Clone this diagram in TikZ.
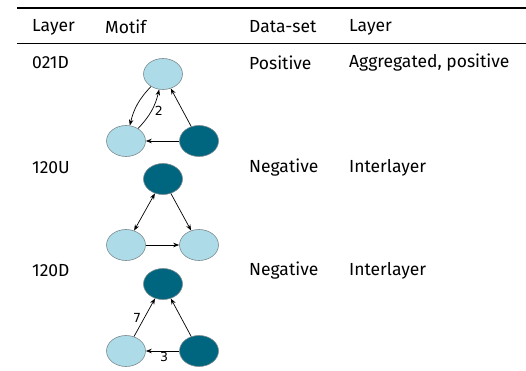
\documentclass[tikz,border=0pt]{standalone}
\usepackage{fontspec}
\setmainfont{Fira Sans}
\newfontfamily\graphfont{DejaVu Sans}
\usetikzlibrary{arrows.meta,shapes.geometric}
\definecolor{lightnode}{HTML}{ADDCE8}
\definecolor{darknode}{HTML}{00657F}
\definecolor{nodeedge}{HTML}{7A8A90}
\tikzset{
  lnode/.style={ellipse, draw=nodeedge, fill=lightnode, minimum width=39pt, minimum height=31pt, inner sep=0pt, line width=0.6pt},
  dnode/.style={ellipse, draw=nodeedge, fill=darknode, minimum width=39pt, minimum height=31pt, inner sep=0pt, line width=0.6pt},
  tip/.tip={Stealth[length=6pt,width=4.5pt]},
  link/.style={-tip, line width=0.7pt},
  cell/.style={anchor=west, font=\fontsize{17.5}{20}\selectfont, inner sep=0pt},
  wlabel/.style={font=\graphfont\fontsize{12.5}{14}\selectfont, inner sep=1pt},
}
\begin{document}
\begin{tikzpicture}[x=1pt,y=-1pt]
\useasboundingbox (0,0) rectangle (526,371);
% rules
\draw[line width=1.2pt] (17,8) -- (526,8);
\draw[line width=0.8pt] (17,43.5) -- (526,43.5);
% header
\node[cell] (h1) at (32,27) {Layer};
\node[cell] (h2) at (105,27) {Motif};
\node[cell] (h3) at (249,27) {Data-set};
\node[cell] (h4) at (349,27) {Layer};
% row labels
\node[cell] (r1a) at (32,63) {021D};
\node[cell] (r1b) at (249,63) {Positive};
\node[cell] (r1c) at (349,63) {Aggregated, positive};
\node[cell] (r2a) at (32,168) {120U};
\node[cell] (r2b) at (249,168) {Negative};
\node[cell] (r2c) at (349,168) {Interlayer};
\node[cell] (r3a) at (32,271) {120D};
\node[cell] (r3b) at (249,271) {Negative};
\node[cell] (r3c) at (349,271) {Interlayer};
% motif 021D
\node[lnode] (a1) at (163,74) {};
\node[lnode] (a2) at (126,141) {};
\node[dnode] (a3) at (199,141) {};
\draw[link] (a1) to[bend right=15] (a2);
\draw[link] (a2) to[bend right=15] node[wlabel, pos=0.5, right=2pt] {2} (a1);
\draw[link] (a3) -- (a1);
\draw[link] (a3) -- (a2);
% motif 120U
\node[dnode] (b1) at (163,179) {};
\node[lnode] (b2) at (126,245) {};
\node[lnode] (b3) at (199,245) {};
\draw[tip-tip, line width=0.7pt] (b1) -- (b2);
\draw[link] (b1) -- (b3);
\draw[link] (b2) -- (b3);
% motif 120D
\node[dnode] (c1) at (163,284) {};
\node[lnode] (c2) at (126,351) {};
\node[dnode] (c3) at (199,351) {};
\draw[link] (c2) -- node[wlabel, pos=0.5, left=2pt] {7} (c1);
\draw[link] (c3) -- (c1);
\draw[link] (c3) -- node[wlabel, pos=0.45, below=0pt] {3} (c2);
\end{tikzpicture}
\end{document}
